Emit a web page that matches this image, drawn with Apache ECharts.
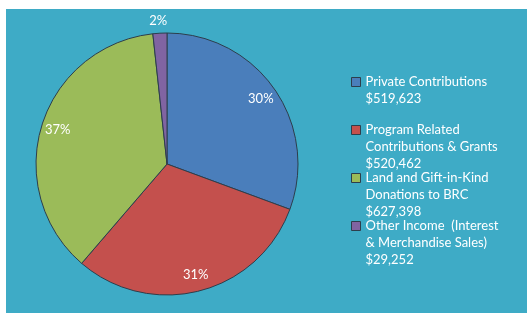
<!DOCTYPE html>
<html>
<head>
<meta charset="utf-8">
<script src="https://cdn.jsdelivr.net/npm/echarts@6/dist/echarts.min.js"></script>
<style>
  html, body { margin: 0; padding: 0; background: #fff; }
  #income { position: absolute; left: 6px; top: 9px; width: 521px; height: 304px; }
</style>
</head>
<body>
<div id="income"></div>
<script>
var names = ['Private Contributions', 'Program Related Contributions & Grants',
  'Land and Gift-in-Kind Donations to BRC', 'Other Income (Interest & Merchandise Sales)'];
var legendLines = [
  ['Private Contributions'],
  ['Program Related', 'Contributions & Grants'],
  ['Land and Gift-in-Kind', 'Donations to BRC'],
  ['Other Income  (Interest', '& Merchandise Sales)']
];
var amounts = [519623, 520462, 627398, 29252];
var pctLabels = ['30%', '31%', '37%', '2%'];
var colors = ['#4a7ebb', '#c4504d', '#9bbb59', '#8064a2'];

var FONT = 'Lato';
var R = 131;

function money(v) {
  return '$' + v.toString().replace(/\B(?=(\d{3})+(?!\d))/g, ',');
}

var pieData = names.map(function(n, i) {
  var item = { name: n, value: amounts[i], itemStyle: { color: colors[i] } };
  if (i === 3) {
    // small slice: label sits just outside the rim
    item.label = {
      show: true, position: 'outside', distanceToLabelLine: -8,
      formatter: pctLabels[i], color: '#fff', fontSize: 13, fontFamily: FONT
    };
    item.labelLine = { show: false, length: 12, length2: 0 };
  }
  return item;
});

// invisible twin pie, only used to put the percentages near the rim
var labelData = names.map(function(n, i) {
  return {
    name: n, value: amounts[i],
    label: { show: i !== 3, formatter: pctLabels[i] }
  };
});

var myChart = echarts.init(document.getElementById('income'));
myChart.setOption({
  backgroundColor: '#3eabc6',
  animation: false,
  legend: {
    orient: 'vertical',
    left: 345,
    top: 64,
    padding: 0,
    itemGap: -4,
    itemWidth: 9,
    itemHeight: 51,
    icon: 'path://M0,0M9,51M0,4h9v9h-9z',
    selectedMode: false,
    data: names,
    itemStyle: { borderColor: '#2d3e4c', borderWidth: 1 },
    formatter: function(name) {
      var i = names.indexOf(name);
      var lines = legendLines[i].concat([money(amounts[i])]);
      while (lines.length < 3) lines.push(' ');
      return lines.join('\n');
    },
    textStyle: { color: '#fff', fontSize: 13, fontFamily: FONT, lineHeight: 17 }
  },
  series: [{
    type: 'pie',
    center: [161, 155],
    radius: [0, R],
    startAngle: 90,
    clockwise: true,
    silent: true,
    label: { show: false },
    labelLine: { show: false },
    itemStyle: { borderColor: '#2d3e4c', borderWidth: 1 },
    data: pieData
  }, {
    type: 'pie',
    center: [161, 155],
    radius: [0, R * 1.7],
    startAngle: 90,
    clockwise: true,
    silent: true,
    itemStyle: { color: 'rgba(0,0,0,0)', borderWidth: 0 },
    label: { position: 'inside', color: '#fff', fontSize: 13, fontFamily: FONT },
    labelLine: { show: false },
    data: labelData
  }]
});
window.addEventListener('resize', function() {
  myChart.resize();
});
</script>
</body>
</html>
